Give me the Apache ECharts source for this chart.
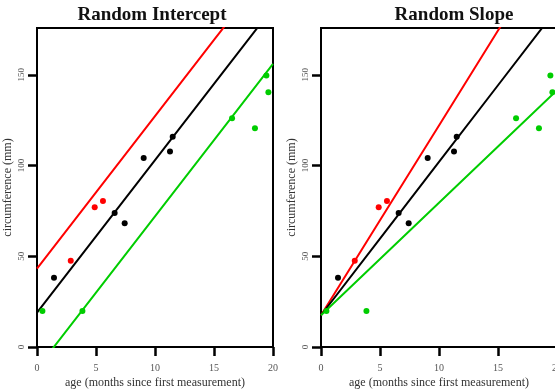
<!DOCTYPE html>
<html>
<head>
<meta charset="utf-8">
<script src="https://cdn.jsdelivr.net/npm/echarts@6/dist/echarts.min.js"></script>
<style>
  html, body { margin: 0; padding: 0; background: #fff; }
  #main { width: 555px; height: 390px; }
</style>
</head>
<body>
<div id="main"></div>
<script>
// observed points per tree (age, circumference)
const redPts = [[2.86, 47.6], [4.89, 77.0], [5.59, 80.5]]
const blackPts = [[1.44, 38.2], [6.58, 73.9], [7.43, 68.2], [9.04, 104.2], [11.27, 107.7], [11.5, 115.9]]
const greenPts = [[0.46, 19.8], [3.85, 19.8], [16.53, 126.0], [18.47, 120.5], [19.44, 149.6], [19.61, 140.4]]

// fitted lines [red, black, green]
const lineColors = ['#ff0000', '#000000', '#00cd00']
const interceptRI = [43.2, 19.0, -12.0]
const slopeRI = [8.4, 8.4, 8.4]
const interceptRS = [17.5, 17.5, 17.5]
const slopeRS = [10.46, 8.45, 6.2]

const xTicks = [0, 5, 10, 15, 20]
const yTicks = [0, 50, 100, 150]
const titles = ['Random Intercept', 'Random Slope']

const serif = '"Liberation Serif", "DejaVu Serif", serif'
const chart = echarts.init(document.getElementById('main'))

function lineData (a, b) {
  return xTicks.map(x => [x, a + b * x])
}

function xAxisFor (i) {
  return {
    gridIndex: i, type: 'value', min: 0, max: 20, interval: 5,
    axisLine: { show: true, onZero: false, lineStyle: { color: '#000', width: 2 } },
    axisTick: { show: true, inside: false, length: 9, lineStyle: { color: '#000', width: 2.5, opacity: 1 } },
    axisLabel: { fontFamily: serif, fontSize: 10, color: '#555', margin: 16 },
    splitLine: { show: false },
    name: 'age (months since first measurement)',
    nameLocation: 'middle', nameGap: 30, nameMoveOverlap: false,
    nameTextStyle: { fontFamily: serif, fontSize: 12, color: '#333' }
  }
}

function yAxisFor (i) {
  return {
    gridIndex: i, type: 'value', min: 0, max: 175.8, interval: 50,
    axisLine: { show: true, onZero: false, lineStyle: { color: '#000', width: 2 } },
    axisTick: { show: true, inside: false, length: 9, lineStyle: { color: '#000', width: 2.5, opacity: 1 } },
    axisLabel: {
      fontFamily: serif, fontSize: 9, color: '#555', margin: 11, rotate: 90, showMaxLabel: false,
      formatter: v => (yTicks.indexOf(v) >= 0 ? String(v) : '')
    },
    splitLine: { show: false },
    name: 'circumference (mm)',
    nameLocation: 'middle', nameGap: 23, nameRotate: 90, nameMoveOverlap: false,
    nameTextStyle: { fontFamily: serif, fontSize: 12, color: '#333' }
  }
}

const series = []
const sets = [[interceptRI, slopeRI], [interceptRS, slopeRS]]
sets.forEach(([ints, slopes], g) => {
  ints.forEach((a, k) => {
    series.push({
      type: 'line', xAxisIndex: g, yAxisIndex: g, clip: true,
      data: lineData(a, slopes[k]), showSymbol: false, symbol: 'none',
      lineStyle: { color: lineColors[k], width: 2 }, z: 2
    })
  })
  ;[redPts, blackPts, greenPts].forEach((pts, k) => {
    series.push({
      type: 'scatter', xAxisIndex: g, yAxisIndex: g,
      data: pts, symbolSize: 6,
      itemStyle: { color: lineColors[k], opacity: 1 }, z: 3
    })
  })
})

const gridBase = {
  top: 28, width: 236, height: 319, show: true, borderColor: '#000', borderWidth: 2,
  backgroundColor: 'transparent', containLabel: false, outerBoundsMode: 'none'
}

const option = {
  animation: false,
  title: [
    { text: titles[0], left: 147, top: 1, textAlign: 'center',
      textStyle: { fontFamily: serif, fontSize: 19, fontWeight: 'bold', color: '#111' } },
    { text: titles[1], left: 449, top: 1, textAlign: 'center',
      textStyle: { fontFamily: serif, fontSize: 19, fontWeight: 'bold', color: '#111' } }
  ],
  grid: [
    Object.assign({ left: 37 }, gridBase),
    Object.assign({ left: 321 }, gridBase)
  ],
  xAxis: [xAxisFor(0), xAxisFor(1)],
  yAxis: [yAxisFor(0), yAxisFor(1)],
  series: series
}

chart.setOption(option)
</script>
</body>
</html>
